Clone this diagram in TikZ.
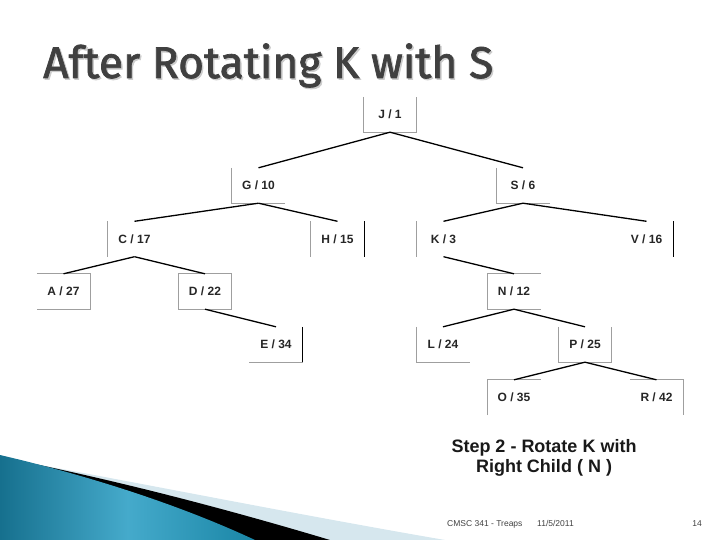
\documentclass[tikz,border=0pt]{standalone}
\usepackage{fontspec}
\setmainfont{Liberation Sans}
\newfontfamily\titlefont[FakeBold=1.6]{Fira Sans}
\definecolor{titlegray}{HTML}{404040}
\definecolor{tealdark}{HTML}{16708E}
\definecolor{teallight}{HTML}{45AACB}
\definecolor{tealmid}{HTML}{1A86A6}
\definecolor{swlight}{HTML}{D6E7EE}
\begin{document}
\begin{tikzpicture}[x=1pt,y=-1pt,
  tn/.style={minimum width=53pt,minimum height=35pt,inner sep=0pt,
    font=\fontsize{12}{14}\selectfont\bfseries,text=black!85},
  edge/.style={line width=1.3pt,black},
  bx/.style={line width=0.8pt,gray!75},
  bk/.style={line width=1.1pt,black},
  foot/.style={font=\fontsize{8.5}{10}\selectfont,text=titlegray,inner sep=0pt}]
\useasboundingbox (0,0) rectangle (720,540);
% swoosh
\fill[swlight] (40,465) .. controls (150,485) and (300,515) .. (445,540) -- (0,540) -- cycle;
\fill[black] (30,463) .. controls (130,484) and (230,510) .. (330,540) -- (0,540) -- cycle;
\shade[left color=tealdark,right color=tealmid,middle color=teallight]
  (0,455) .. controls (90,476) and (180,505) .. (255,540) -- (0,540) -- cycle;
% title
\node[anchor=base west,inner sep=0pt,text=gray!40] at (44.5,79.5)
  {\resizebox{450pt}{!}{\titlefont After Rotating K with S}};
\node[anchor=base west,inner sep=0pt,text=titlegray] (title) at (43,78)
  {\resizebox{450pt}{!}{\titlefont After Rotating K with S}};
% nodes
\node[tn] (J) at (390,114.5) {J / 1};
\node[tn] (G) at (258.5,185.5) {G / 10};
\node[tn] (S) at (523,185.5) {S / 6};
\node[tn] (C) at (134.5,239) {C / 17};
\node[tn] (H) at (337.5,239) {H / 15};
\node[tn] (K) at (443.5,239) {K / 3};
\node[tn] (V) at (646.5,239) {V / 16};
\node[tn] (A) at (63.5,291.5) {A / 27};
\node[tn] (D) at (205,291.5) {D / 22};
\node[tn] (N) at (514,291.5) {N / 12};
\node[tn] (E) at (276,344.5) {E / 34};
\node[tn] (L) at (443,344.5) {L / 24};
\node[tn] (P) at (585,344.5) {P / 25};
\node[tn] (O) at (514,397.5) {O / 35};
\node[tn] (R) at (656.5,397.5) {R / 42};
% partial boxes
\draw[bx] (J.north west) -- (J.south west) -- (J.south east) -- (J.north east);
\draw[bx] (G.north west) -- (G.south west) -- (G.south east);
\draw[bx] (S.north west) -- (S.south west) -- (S.south east);
\draw[bx] (C.north west) -- (C.south west);
\draw[bx] (H.north west) -- (H.south west);
\draw[bk] (H.north east) -- (H.south east);
\draw[bx] (K.north west) -- (K.south west);
\draw[bk] (V.north east) -- (V.south east);
\draw[bx] (A.north west) -- (A.north east) -- (A.south east) -- (A.south west);
\draw[bx] (D.north west) rectangle (D.south east);
\draw[bx] (N.north east) -- (N.north west) -- (N.south west) -- (N.south east);
\draw[bk] (E.north east) -- (E.south east);
\draw[bx] (E.south east) -- (E.south west);
\draw[bx] (L.north west) -- (L.south west) -- (L.south east);
\draw[bx] (P.north west) -- (P.south west) -- (P.south east) -- (P.north east);
\draw[bx] (O.south west) -- (O.north west) -- (O.north east);
\draw[bx] (R.north west) -- (R.north east) -- (R.south east);
% edges
\draw[edge] (J.south) -- (G.north);
\draw[edge] (J.south) -- (S.north);
\draw[edge] (G.south) -- (C.north);
\draw[edge] (G.south) -- (H.north);
\draw[edge] (S.south) -- (K.north);
\draw[edge] (S.south) -- (V.north);
\draw[edge] (C.south) -- (A.north);
\draw[edge] (C.south) -- (D.north);
\draw[edge] (D.south) -- (E.north);
\draw[edge] (K.south) -- (N.north);
\draw[edge] (N.south) -- (L.north);
\draw[edge] (N.south) -- (P.north);
\draw[edge] (P.south) -- (O.north);
\draw[edge] (P.south) -- (R.north);
% caption
\node[anchor=base,inner sep=0pt,font=\fontsize{18}{20}\selectfont\bfseries,text=black!90] (cap1) at (544,452) {Step 2 - Rotate K with};
\node[anchor=base,inner sep=0pt,font=\fontsize{18}{20}\selectfont\bfseries,text=black!90] (cap2) at (544,472) {Right Child ( N )};
% footer
\node[foot,anchor=base west] (f1) at (447,526) {CMSC 341 - Treaps};
\node[foot,anchor=base west] (f2) at (537,526) {11/5/2011};
\node[foot,anchor=base east] (f3) at (702,526) {14};
\end{tikzpicture}
\end{document}
